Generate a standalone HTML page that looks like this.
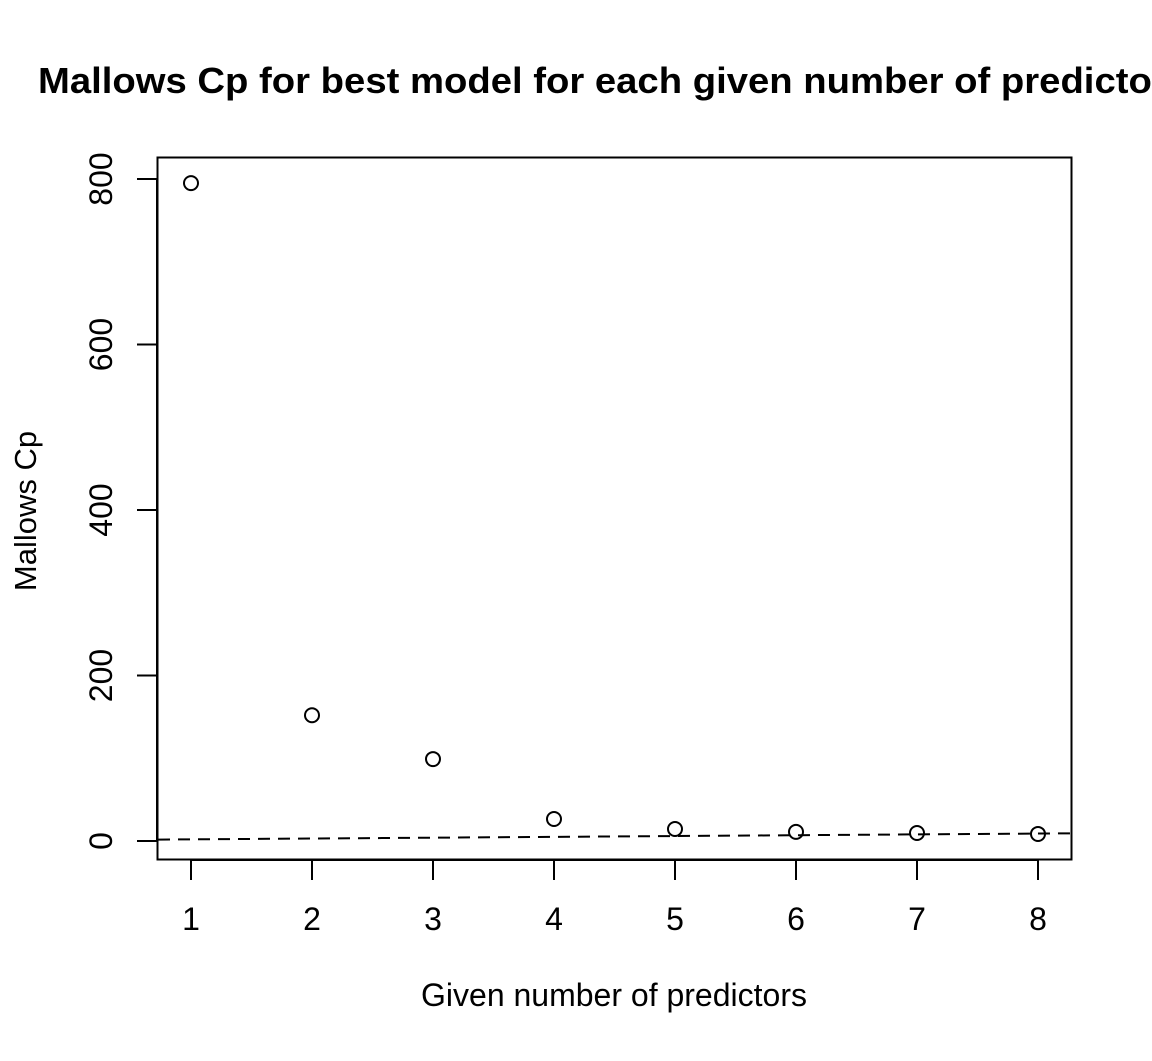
<!DOCTYPE html>
<html><head><meta charset="utf-8"><style>
body{margin:0;background:#fff;overflow:hidden}
svg text{font-family:"Liberation Sans",Arial,sans-serif;fill:#000}
</style></head><body>
<svg id="chart" width="1152" height="1056" viewBox="0 0 1152 1056">
<text x="38" y="93" font-size="36" font-weight="bold" textLength="1150" lengthAdjust="spacingAndGlyphs">Mallows Cp for best model for each given number of predictors</text>
<rect x="157.5" y="157.5" width="914" height="702" fill="none" stroke="#000" stroke-width="2"/>
<g id="xaxis"></g>
<g id="yaxis"></g>
<g id="marks"></g>
<text x="614" y="1006" font-size="32" text-anchor="middle">Given number of predictors</text>
<text transform="translate(36,511) rotate(-90)" font-size="31" text-anchor="middle">Mallows Cp</text>
</svg>
<script>
const predictors=[1,2,3,4,5,6,7,8];
const cpValues=[795,152,99,26.6,14.5,11,9.7,8.5];
const xTicks=[1,2,3,4,5,6,7,8];
const yTicks=[0,200,400,600,800];
const refIntercept=1, refSlope=1;
const NS="http://www.w3.org/2000/svg";
const X=v=>191+(v-1)*121;
const Y=v=>841-v*0.8275;
function mk(tag,attrs,parent){const e=document.createElementNS(NS,tag);for(const k in attrs)e.setAttribute(k,attrs[k]);parent.appendChild(e);return e;}
const xa=document.getElementById('xaxis'),ya=document.getElementById('yaxis'),mg=document.getElementById('marks');
mk('line',{x1:X(xTicks[0]),x2:X(xTicks[xTicks.length-1]),y1:860,y2:860,stroke:'#000','stroke-width':2},xa);
xTicks.forEach(t=>{
  const l=mk('line',{x1:X(t),x2:X(t),y1:860,y2:880,stroke:'#000','stroke-width':2},xa);
  
  
  const tx=mk('text',{x:X(t),y:930,'font-size':32,'text-anchor':'middle'},xa);tx.textContent=t;
  
  
});
mk('line',{x1:157,x2:157,y1:Y(yTicks[0]),y2:Y(yTicks[yTicks.length-1]),stroke:'#000','stroke-width':2},ya);
yTicks.forEach(t=>{
  const l=mk('line',{x1:137,x2:157,y1:Y(t),y2:Y(t),stroke:'#000','stroke-width':2},ya);
  
  
  const tx=mk('text',{transform:`translate(112,${Y(t)}) rotate(-90)`,'font-size':32,'text-anchor':'middle'},ya);tx.textContent=t;
  
  
});
const xv0=1+(158-191)/121, xv1=1+(1070-191)/121;
const ref=mk('line',{x1:158,x2:1070,y1:Y(refIntercept+refSlope*xv0),y2:Y(refIntercept+refSlope*xv1),stroke:'#000','stroke-width':2,'stroke-dasharray':'12 8'},mg);


predictors.forEach((p,i)=>{
  const c=mk('circle',{cx:X(p),cy:Y(cpValues[i]),r:7,fill:'none',stroke:'#000','stroke-width':2},mg);
  
  
});
</script>
</body></html>
